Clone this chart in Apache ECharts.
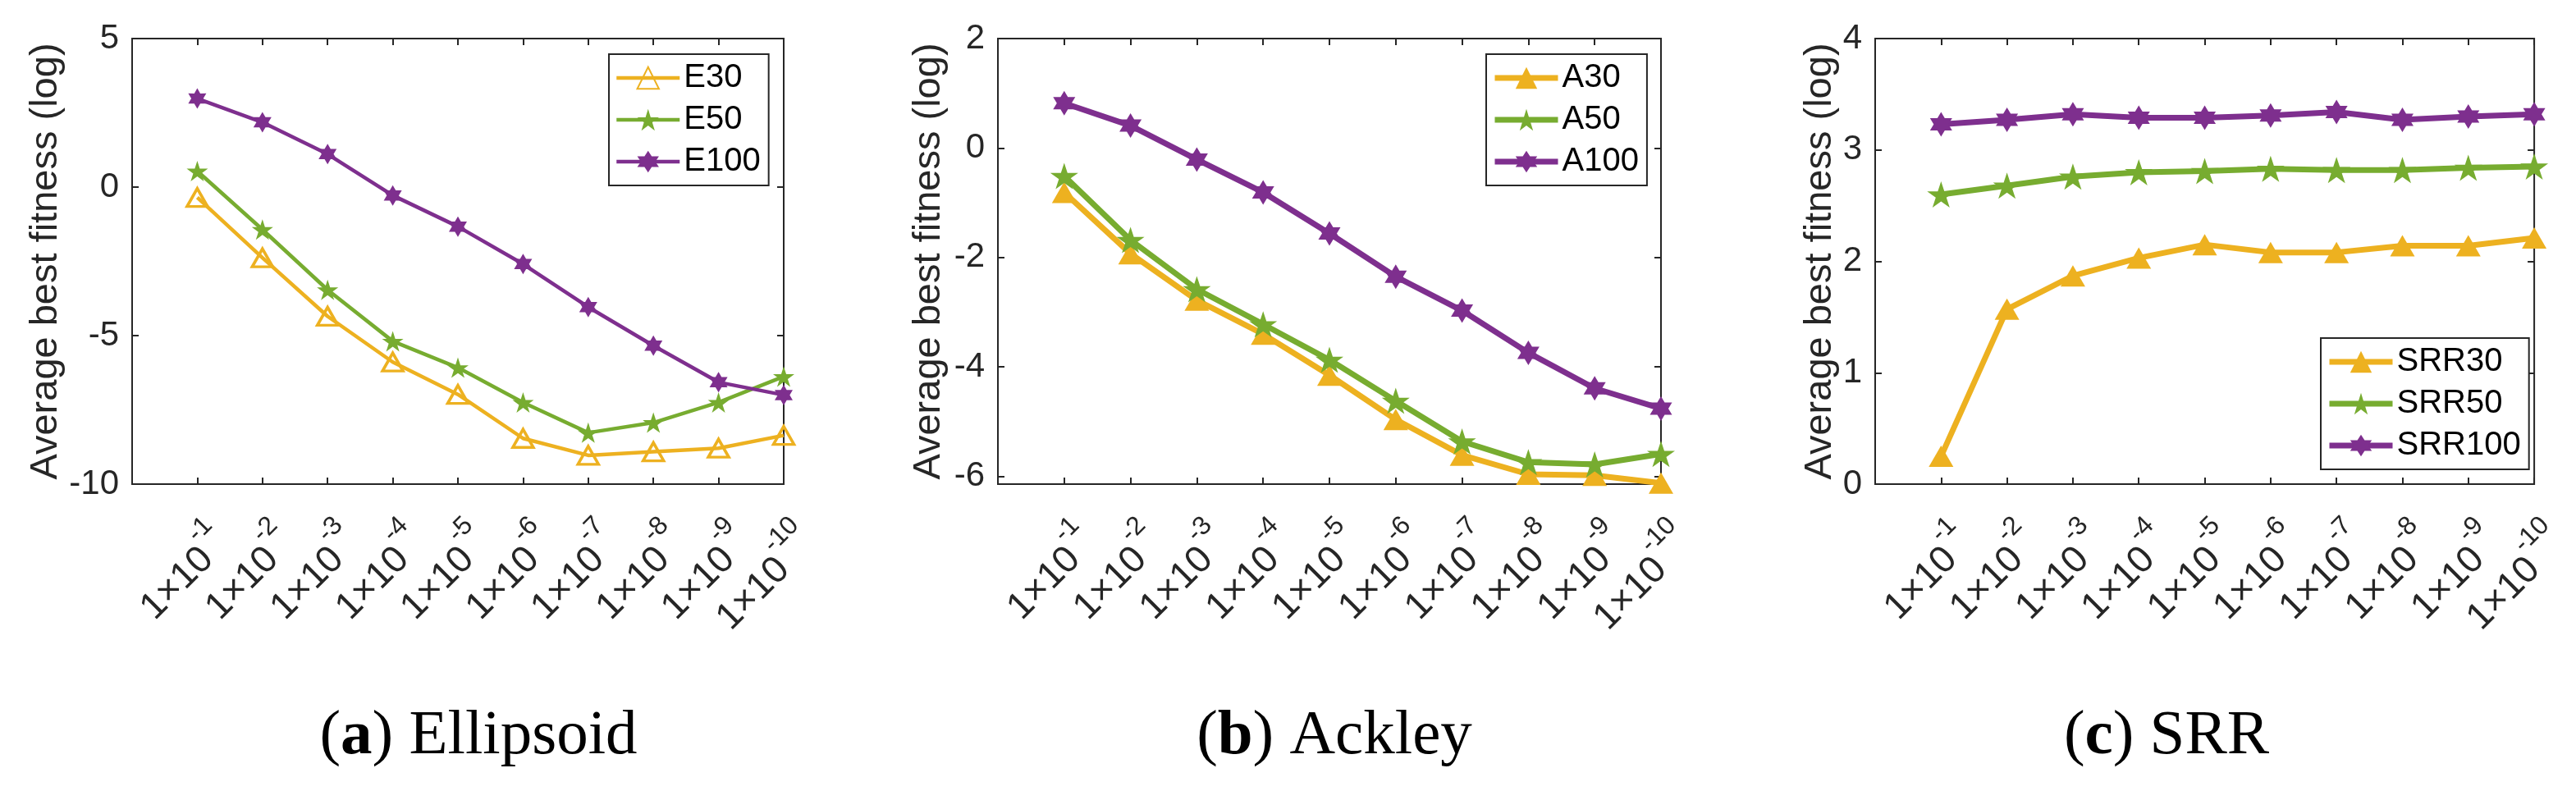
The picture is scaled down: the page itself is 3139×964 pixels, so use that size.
<!DOCTYPE html>
<html>
<head>
<meta charset="utf-8">
<script src="https://cdn.jsdelivr.net/npm/echarts@6/dist/echarts.min.js"></script>
<style>
html, body { margin: 0; padding: 0; background: #fff; }
#main { width: 3139px; height: 964px; }
</style>
</head>
<body>
<div id="main"></div>
<script>
// x positions and tick exponents (1×10^exp)
var xPos = [1, 2, 3, 4, 5, 6, 7, 8, 9, 10]
var xExp = ['-1', '-2', '-3', '-4', '-5', '-6', '-7', '-8', '-9', '-10']

// (a) Ellipsoid
var e30 = [-0.35, -2.38, -4.35, -5.89, -6.98, -8.46, -9.03, -8.91, -8.79, -8.36]
var e50 = [0.54, -1.43, -3.46, -5.19, -6.08, -7.25, -8.27, -7.93, -7.25, -6.38]
var e100 = [2.98, 2.18, 1.11, -0.28, -1.33, -2.59, -4.04, -5.34, -6.57, -7.0]
var yTicksA = [-10, -5, 0, 5]

// (b) Ackley
var a30 = [-0.81, -1.93, -2.78, -3.40, -4.15, -4.96, -5.61, -5.96, -5.98, -6.12]
var a50 = [-0.51, -1.68, -2.58, -3.22, -3.87, -4.62, -5.36, -5.74, -5.78, -5.59]
var a100 = [0.82, 0.41, -0.21, -0.81, -1.56, -2.35, -2.97, -3.74, -4.39, -4.76]
var yTicksB = [-6, -4, -2, 0, 2]

// (c) SRR
var s30 = [0.25, 1.57, 1.87, 2.03, 2.15, 2.08, 2.08, 2.14, 2.14, 2.21]
var s50 = [2.60, 2.68, 2.76, 2.80, 2.81, 2.83, 2.82, 2.82, 2.84, 2.85]
var s100 = [3.23, 3.27, 3.32, 3.29, 3.29, 3.31, 3.34, 3.27, 3.30, 3.32]
var yTicksC = [0, 1, 2, 3, 4]

var captions = [['a', 'Ellipsoid'], ['b', 'Ackley'], ['c', 'SRR']]

var orange = '#EDB120'
var green = '#77AC30'
var purple = '#7E2F8E'
var axisColor = '#262626'
var sans = '"Liberation Sans", Arial, Helvetica, sans-serif'
var serif = '"Liberation Serif", "Times New Roman", serif'

// star shaped marker (pentagram / hexagram)
function starPath(n, inner) {
    var pts = []
    for (var i = 0; i < 2 * n; i++) {
        var r = i % 2 ? inner : 1
        var a = -Math.PI / 2 + i * Math.PI / n
        pts.push((r * Math.cos(a)).toFixed(4) + ' ' + (r * Math.sin(a)).toFixed(4))
    }
    return 'path://M' + pts.join(' L') + ' Z'
}
var pentagram = starPath(5, 0.382)
var hexagram = starPath(6, 0.577)

function pairs(vals) {
    return xPos.map(function (x, i) { return [x, vals[i]] })
}

var grids = [
    { left: 161, top: 47, width: 794, height: 543 },
    { left: 1216, top: 47, width: 808, height: 543 },
    { left: 2285, top: 47, width: 807, height: 543 }
]
var yRanges = [[-10, 5, yTicksA], [-6.14, 2, yTicksB], [0, 4, yTicksC]]
var nameGaps = [81, 60, 42]
var lineW = [4.5, 7, 7]
// a hair past the last point so the 10^-10 label is not the "max" label
var xMax = 10.0001

var tickStyle = { inside: true, length: 8, lineStyle: { color: axisColor, width: 2 } }

var xAxes = []
var yAxes = []
grids.forEach(function (g, k) {
    xAxes.push({
        gridIndex: k, type: 'value', position: 'bottom',
        min: 0, max: xMax, interval: 1,
        axisLine: { show: false, onZero: false },
        splitLine: { show: false },
        axisTick: tickStyle,
        axisLabel: {
            rotate: 45, margin: 32, color: axisColor, fontFamily: sans,
            showMaxLabel: false, showMinLabel: false, hideOverlap: false,
            padding: [72, 0, 0, 0],
            formatter: function (v) {
                if (v < 1 || v != Math.round(v)) return ''
                return '{b|1×10}{s|' + xExp[v - 1] + '}'
            },
            rich: {
                b: { fontSize: 46, fontFamily: sans, color: axisColor, lineHeight: 66, verticalAlign: 'bottom' },
                s: { fontSize: 32, fontFamily: sans, color: axisColor, lineHeight: 66, verticalAlign: 'top' }
            }
        }
    })
    xAxes.push({
        gridIndex: k, type: 'value', position: 'top',
        min: 0, max: xMax, interval: 1,
        axisLine: { show: false, onZero: false }, splitLine: { show: false }, axisLabel: { show: false },
        axisTick: tickStyle
    })
    var r = yRanges[k]
    yAxes.push({
        gridIndex: k, type: 'value', position: 'left',
        min: r[0], max: r[1],
        name: 'Average best fitness (log)', nameLocation: 'middle', nameGap: nameGaps[k],
        nameTextStyle: { fontSize: 47, fontFamily: sans, color: axisColor },
        axisLine: { show: false, onZero: false }, splitLine: { show: false },
        axisTick: Object.assign({ customValues: r[2] }, tickStyle),
        axisLabel: { margin: 16, fontSize: 42, fontFamily: sans, color: axisColor, customValues: r[2] }
    })
    yAxes.push({
        gridIndex: k, type: 'value', position: 'right',
        min: r[0], max: r[1],
        axisLine: { show: false, onZero: false }, splitLine: { show: false }, axisLabel: { show: false },
        axisTick: Object.assign({ customValues: r[2] }, tickStyle)
    })
})

function mkSeries(name, k, vals, color, kind) {
    var s = {
        name: name, type: 'line', xAxisIndex: 2 * k, yAxisIndex: 2 * k,
        data: pairs(vals), clip: false, z: 3,
        lineStyle: { color: color, width: lineW[k] },
        itemStyle: { color: color },
        emphasis: { disabled: true }
    }
    if (kind == 'tri') {
        s.symbol = 'triangle'
        s.symbolSize = k == 0 ? [25, 22] : [30, 26]
        if (k == 0) {
            s.itemStyle = { color: 'rgba(255,255,255,0)', borderColor: color, borderWidth: 3.5 }
        }
    } else if (kind == 'pent') {
        s.symbol = pentagram
        s.symbolSize = k == 0 ? [26, 25] : [34, 32]
    } else {
        s.symbol = hexagram
        s.symbolSize = k == 0 ? [22, 25] : [27, 30]
    }
    return s
}

var series = [
    mkSeries('E30', 0, e30, orange, 'tri'),
    mkSeries('E50', 0, e50, green, 'pent'),
    mkSeries('E100', 0, e100, purple, 'hex'),
    mkSeries('A30', 1, a30, orange, 'tri'),
    mkSeries('A50', 1, a50, green, 'pent'),
    mkSeries('A100', 1, a100, purple, 'hex'),
    mkSeries('SRR30', 2, s30, orange, 'tri'),
    mkSeries('SRR50', 2, s50, green, 'pent'),
    mkSeries('SRR100', 2, s100, purple, 'hex')
]

function mkLegend(names, left, top, lw) {
    return {
        data: names, orient: 'vertical', left: left, top: top,
        padding: [9, 10, 9, 7], itemGap: 11, itemWidth: 77, itemHeight: 33,
        borderColor: axisColor, borderWidth: 2, backgroundColor: '#fff',
        selectedMode: false,
        lineStyle: { width: lw },
        textStyle: { fontSize: 40, fontFamily: sans, color: '#000' }
    }
}

var capX = [583, 1626, 2640]
var graphics = captions.map(function (c, k) {
    return {
        type: 'text', x: capX[k], y: 898,
        style: {
            text: '({b|' + c[0] + '}) ' + c[1],
            align: 'center', verticalAlign: 'middle',
            fontSize: 77, fontFamily: serif, fill: '#000',
            rich: { b: { fontSize: 77, fontWeight: 'bold', fontFamily: serif, fill: '#000' } }
        }
    }
})

var myChart = echarts.init(document.getElementById('main'), null, { renderer: 'canvas' })
myChart.setOption({
    backgroundColor: '#fff',
    animation: false,
    grid: grids.map(function (g) {
        return Object.assign({ show: true, borderColor: axisColor, borderWidth: 2, backgroundColor: 'transparent' }, g)
    }),
    xAxis: xAxes,
    yAxis: yAxes,
    legend: [
        mkLegend(['E30', 'E50', 'E100'], 742, 66, 4.5),
        mkLegend(['A30', 'A50', 'A100'], 1811, 66, 7),
        mkLegend(['SRR30', 'SRR50', 'SRR100'], 2828, 412, 7)
    ],
    series: series,
    graphic: graphics
})
</script>
</body>
</html>
